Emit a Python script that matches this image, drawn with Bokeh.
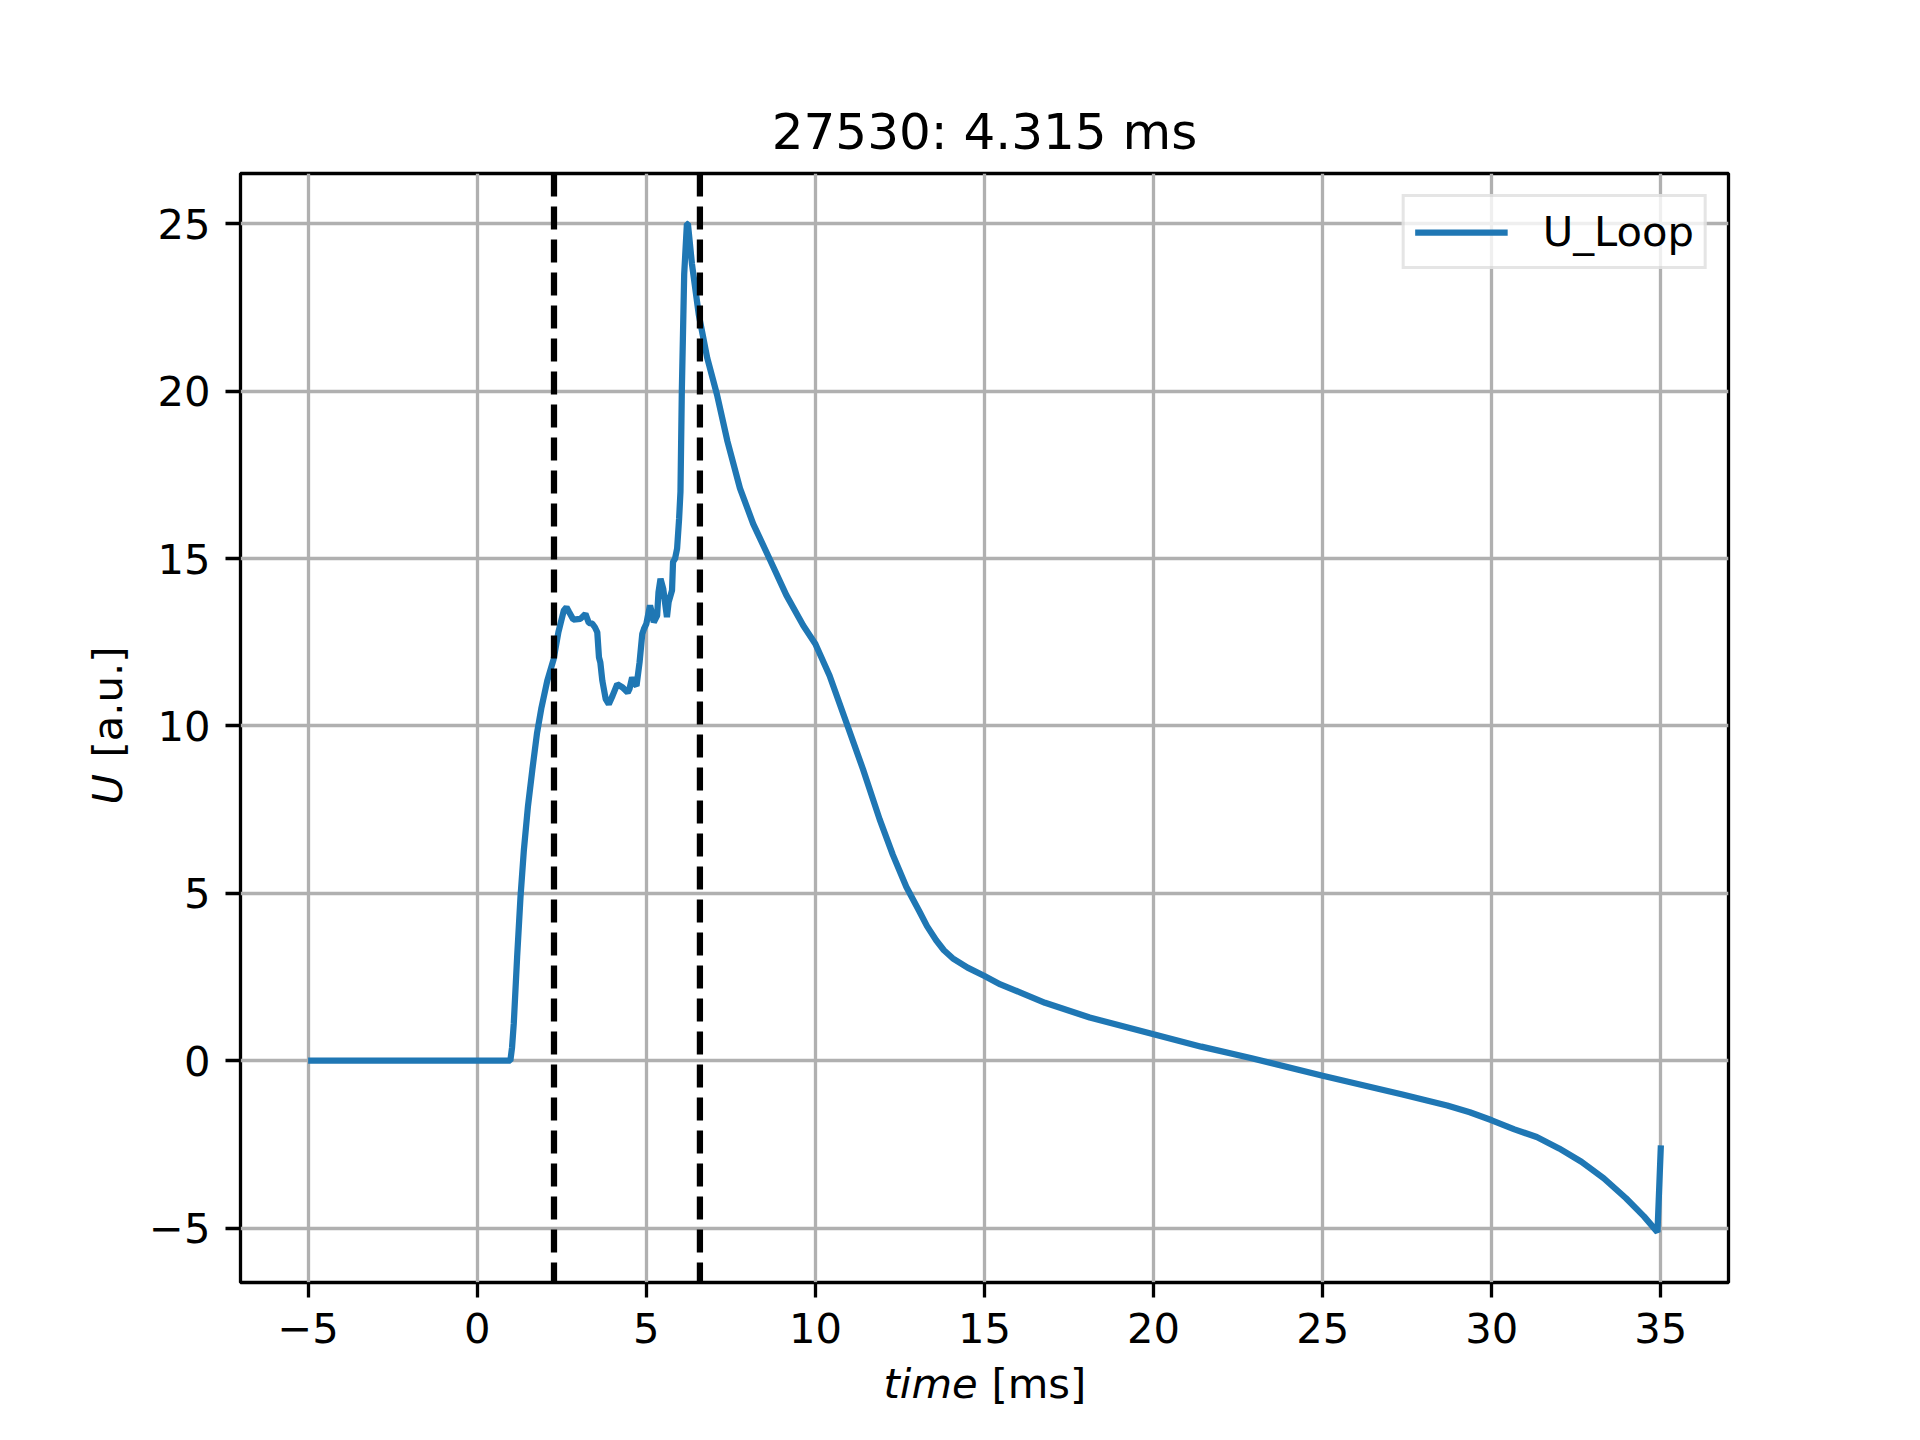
import math

from bokeh.embed import file_html
from bokeh.models import ColumnDataSource, FixedTicker, Label, Range1d, Span
from bokeh.plotting import figure
from bokeh.resources import INLINE

# loop voltage of shot 27530
time_ms = [-5.0, 0.0, 0.98, 1.03, 1.08, 1.18, 1.28, 1.38, 1.50, 1.63, 1.77, 1.90,
           2.07, 2.26, 2.40, 2.56, 2.64, 2.72, 2.84, 3.05, 3.20, 3.30, 3.40, 3.48,
           3.55, 3.60, 3.64, 3.70, 3.80, 3.89, 4.00, 4.14, 4.30, 4.45, 4.50, 4.58,
           4.66, 4.71, 4.80, 4.88, 4.93, 5.00, 5.11, 5.16, 5.22, 5.32, 5.36, 5.42,
           5.50, 5.61, 5.66, 5.76, 5.79, 5.85, 5.91, 5.97, 6.01, 6.05, 6.12, 6.20,
           6.23, 6.35, 6.55, 6.80, 7.09, 7.40, 7.77, 8.16, 8.65, 9.14, 9.64, 10.0,
           10.42, 10.92, 11.41, 11.90, 12.29, 12.69, 13.08, 13.30, 13.57, 13.80,
           14.06, 14.50, 15.0, 15.47, 16.03, 16.79, 18.11, 20.0, 21.41, 22.87,
           25.0, 27.36, 28.68, 29.35, 30.0, 30.67, 31.33, 31.99, 32.65, 33.31,
           33.97, 34.50, 34.90, 35.0]
u_loop = [0.0, 0.0, 0.0, 0.4, 1.1, 3.1, 4.9, 6.3, 7.6, 8.7, 9.8, 10.55,
          11.35, 12.0, 12.8, 13.45, 13.55, 13.4, 13.18, 13.2, 13.35, 13.08, 13.06, 12.95,
          12.8, 12.05, 11.9, 11.35, 10.8, 10.65, 10.9, 11.25, 11.15, 11.0, 11.1, 11.45,
          11.25, 11.2, 11.9, 12.75, 12.9, 13.05, 13.6, 13.4, 13.1, 13.3, 14.0, 14.4,
          14.1, 13.25, 13.7, 14.05, 14.9, 15.0, 15.3, 16.2, 17.0, 20.0, 23.5, 25.0,
          25.0, 23.8, 22.3, 21.0, 19.9, 18.5, 17.1, 16.04, 14.98, 13.91, 13.0, 12.45,
          11.5, 10.09, 8.70, 7.21, 6.15, 5.19, 4.45, 4.02, 3.60, 3.30,
          3.06, 2.78, 2.53, 2.28, 2.05, 1.73, 1.29, 0.79, 0.42, 0.08,
          -0.45, -1.01, -1.34, -1.54, -1.78, -2.05, -2.28, -2.62, -3.02, -3.51,
          -4.11, -4.65, -5.12, -2.53]

# the two marked instants (4.315 ms apart)
t_marks = [2.27, 6.585]

x_ticks = [-5, 0, 5, 10, 15, 20, 25, 30, 35]
x_tick_labels = ["\u22125", "0", "5", "10", "15", "20", "25", "30", "35"]
y_ticks = [-5, 0, 5, 10, 15, 20, 25]
y_tick_labels = ["\u22125", "0", "5", "10", "15", "20", "25"]

title_text = "27530: 4.315 ms"

FONT = "DejaVu Sans"
FS = "41.7px"
W, H = 1904, 1424
BL, BR, BT, BB = 240, 176, 173, 142

# matplotlib style 5% margins
xlo, xhi = min(time_ms), max(time_ms)
ylo, yhi = min(u_loop), max(u_loop)
x0, x1 = xlo - 0.05 * (xhi - xlo), xhi + 0.05 * (xhi - xlo)
y0, y1 = ylo - 0.05 * (yhi - ylo), yhi + 0.05 * (yhi - ylo)

p = figure(width=W, height=H, x_range=Range1d(x0, x1), y_range=Range1d(y0, y1),
           output_backend="svg", toolbar_location=None,
           min_border_left=BL, min_border_right=BR,
           min_border_top=BT, min_border_bottom=BB)

p.title.text = title_text
p.title.align = "center"
p.title.text_font = FONT
p.title.text_font_size = "50px"
p.title.text_font_style = "normal"
p.title.text_color = "black"
p.title.standoff = 26

p.outline_line_color = "black"
p.outline_line_width = 3.3
p.background_fill_color = "white"
p.border_fill_color = "white"

p.xaxis.ticker = FixedTicker(ticks=x_ticks)
p.yaxis.ticker = FixedTicker(ticks=y_ticks)
p.xaxis.major_label_overrides = dict(zip(x_ticks, x_tick_labels))
p.yaxis.major_label_overrides = dict(zip(y_ticks, y_tick_labels))
for ax in (p.xaxis, p.yaxis):
    ax.axis_line_color = None
    ax.major_tick_in = 0
    ax.major_tick_out = 15
    ax.major_tick_line_width = 3.3
    ax.major_tick_line_color = "black"
    ax.minor_tick_line_color = None
    ax.major_label_text_font = FONT
    ax.major_label_text_font_size = FS
    ax.major_label_text_color = "black"
    ax.major_label_standoff = 15

p.grid.grid_line_color = "#b0b0b0"
p.grid.grid_line_width = 3.3

src = ColumnDataSource(data=dict(t=time_ms, u=u_loop))
p.line("t", "u", source=src, line_color="#1f77b4", line_width=6.25,
       legend_label="U_Loop")

for t in t_marks:
    p.add_layout(Span(location=t, dimension="height", line_color="black",
                      line_width=6.25, line_dash="23 10"))

leg = p.legend[0]
leg.location = "top_right"
leg.margin = 21
leg.padding = 10
leg.glyph_width = 93
leg.label_standoff = 35
leg.label_text_font = FONT
leg.label_text_font_size = FS
leg.label_text_color = "black"
leg.border_line_color = "#cccccc"
leg.border_line_width = 3.5
leg.background_fill_alpha = 0.8

# axis labels: italic symbol + plain unit, placed in canvas pixels.
# side panels are used so the text is not clipped to the frame
label_style = dict(x_units="canvas", y_units="canvas", text_font=FONT,
                   text_font_size=FS, text_color="black",
                   text_baseline="alphabetic", text_align="left")
p.add_layout(Label(x=883, y=1383, text="time", text_font_style="italic",
                   **label_style), "below")
p.add_layout(Label(x=991, y=1383, text="[ms]", **label_style), "right")
p.add_layout(Label(x=107, y=804, text="U", text_font_style="italic",
                   angle=math.pi / 2, **label_style), "left")
p.add_layout(Label(x=107, y=757, text="[a.u.]", angle=math.pi / 2,
                   **label_style), "left")

open("out.html", "w").write(file_html(p, INLINE))
